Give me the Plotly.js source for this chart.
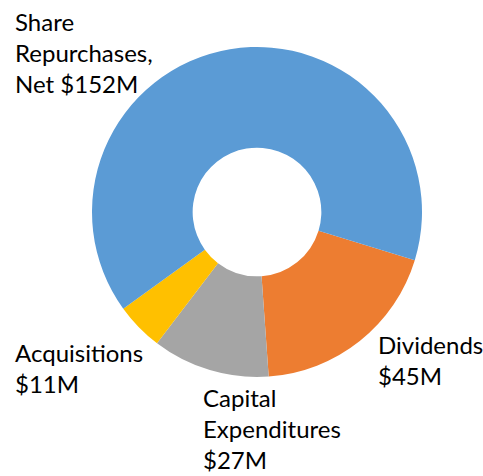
<!DOCTYPE html>
<html>
<head>
<meta charset="utf-8">
<script src="https://cdn.plot.ly/plotly-3.0.1.min.js"></script>
<style>html,body{margin:0;padding:0;background:#fff;}#chart{width:483px;height:476px;}</style>
</head>
<body>
<div id="chart"></div>
<script>
// Data (in clockwise order starting from Dividends)
const categories = ["Dividends", "Capital Expenditures", "Acquisitions", "Share Repurchases, Net"];
const values = [45, 27, 11, 152];
const colors = ["#ED7D31", "#A5A5A5", "#FFC000", "#5B9BD5"];
// Label layout (line breaks + pixel position of the text box corner)
const labelHeads = ["Dividends<br>", "Capital<br>Expenditures<br>", "Acquisitions<br>", "Share<br>Repurchases,<br>Net "];
const labelPos = [[376, 328], [201, 476], [13, 336], [13, 5]];
const labelAnchor = ["top", "bottom", "top", "top"];

const W = 483, H = 476;
const annotations = categories.map((c, i) => ({
  xref: "paper", yref: "paper",
  x: labelPos[i][0] / W, y: 1 - labelPos[i][1] / H,
  xanchor: "left", yanchor: labelAnchor[i], align: "left",
  showarrow: false,
  text: labelHeads[i] + "$" + values[i] + "M",
  font: {family: "Lato, 'Open Sans', sans-serif", size: 24, color: "#000"}
}));

const cx = 257, cy = 212, r = 165;
const trace = {
  type: "pie",
  labels: categories,
  values: values,
  sort: false,
  direction: "clockwise",
  rotation: 107,
  hole: 0.39,
  marker: {colors: colors, line: {width: 0}},
  textinfo: "none",
  hoverinfo: "skip",
  domain: {x: [(cx - r) / W, (cx + r) / W], y: [(H - cy - r) / H, (H - cy + r) / H]}
};

Plotly.newPlot("chart", [trace], {
  width: W, height: H,
  margin: {l: 0, r: 0, t: 0, b: 0},
  showlegend: false,
  paper_bgcolor: "#fff",
  annotations: annotations
}, {displayModeBar: false, staticPlot: true});
</script>
</body>
</html>
